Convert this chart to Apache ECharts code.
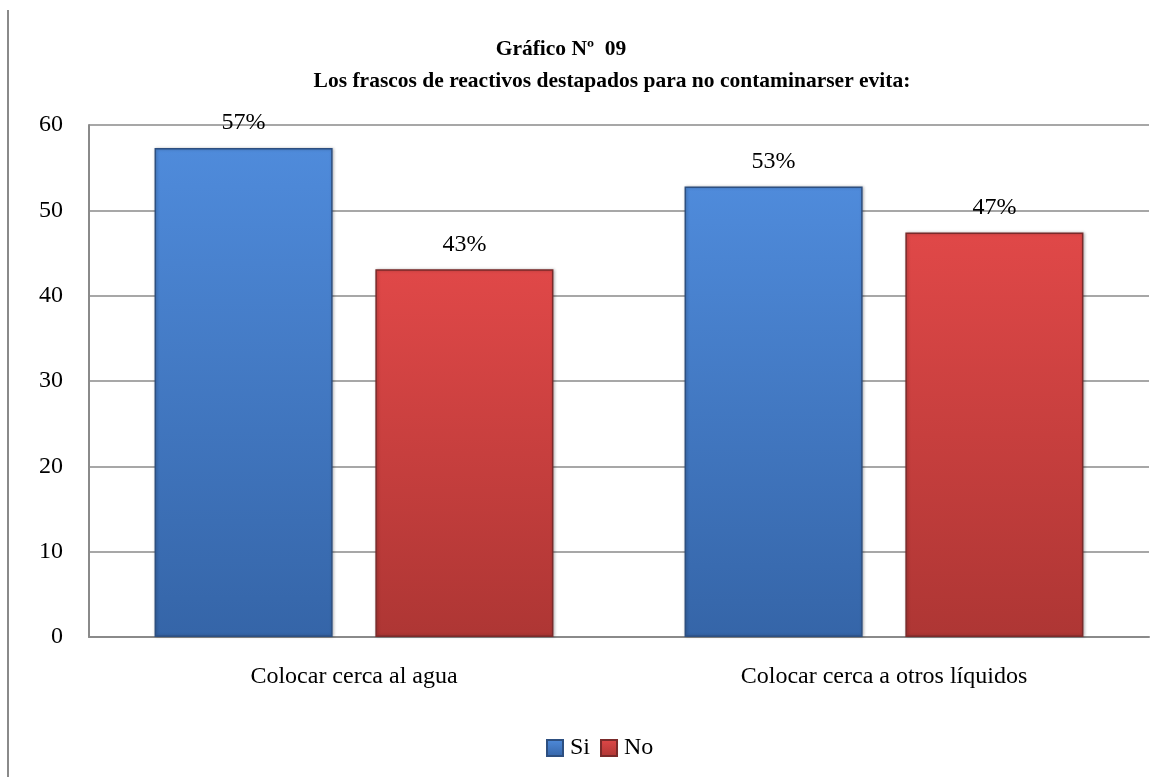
<!DOCTYPE html>
<html>
<head>
<meta charset="utf-8">
<script src="https://cdn.jsdelivr.net/npm/echarts@6/dist/echarts.min.js"></script>
<style>
  html, body { margin: 0; padding: 0; background: #fff; }
  #chart { width: 1168px; height: 777px; }
</style>
</head>
<body>
<div id="chart"></div>
<script>
// Survey answers per option, in percent
const categories = ['Colocar cerca al agua', 'Colocar cerca a otros líquidos'];
const siValues = [57.3, 52.8];
const noValues = [43.1, 47.4];
const seriesNames = ['Si', 'No'];
const yTicks = { min: 0, max: 60, interval: 10 };

const FONT = '"Liberation Serif", "Times New Roman", serif';

function grad(top, bottom) {
  return new echarts.graphic.LinearGradient(0, 0, 0, 1, [
    { offset: 0, color: top },
    { offset: 1, color: bottom }
  ]);
}

function barSeries(name, data, topColor, bottomColor, edge) {
  return {
    name: name,
    type: 'bar',
    data: data,
    barWidth: '33.6%',
    barGap: '24%',
    itemStyle: {
      color: grad(topColor, bottomColor),
      borderColor: edge,
      borderWidth: 1.5,
      shadowColor: 'rgba(0,0,0,0.25)',
      shadowBlur: 3,
      shadowOffsetX: 1
    },
    label: {
      show: true,
      position: 'top',
      distance: 13,
      fontFamily: FONT,
      fontSize: 24,
      color: '#000',
      formatter: p => Math.round(p.value) + '%'
    }
  };
}

const chart = echarts.init(document.getElementById('chart'), null, { renderer: 'canvas' });
chart.setOption({
  backgroundColor: '#fff',
  animation: false,
  title: [
    {
      text: 'Gráfico Nº  09',
      left: 556, top: 33, textAlign: 'center',
      textStyle: { fontFamily: FONT, fontSize: 21.5, fontWeight: 'bold', color: '#000' }
    },
    {
      text: 'Los frascos de reactivos destapados para no contaminarser evita:',
      left: 607, top: 65, textAlign: 'center',
      textStyle: { fontFamily: FONT, fontSize: 21.5, fontWeight: 'bold', color: '#000' }
    }
  ],
  graphic: [
    {
      type: 'line',
      shape: { x1: 8, y1: 10, x2: 8, y2: 777 },
      style: { stroke: '#8a8a8a', lineWidth: 2 }
    }
  ],
  legend: {
    data: seriesNames,
    left: 541, top: 731,
    itemWidth: 16, itemHeight: 16, itemGap: 10,
    icon: 'rect',
    textStyle: { fontFamily: FONT, fontSize: 24, color: '#000', padding: [0, 0, 0, 2] }
  },
  grid: { left: 89, right: 19, top: 125, bottom: 140, containLabel: false },
  xAxis: {
    type: 'category',
    data: categories,
    axisLine: { lineStyle: { color: '#8a8a8a', width: 2 } },
    axisTick: { show: false },
    axisLabel: { fontFamily: FONT, fontSize: 24, color: '#000', margin: 28 }
  },
  yAxis: {
    type: 'value',
    min: yTicks.min, max: yTicks.max, interval: yTicks.interval,
    axisLine: { show: true, lineStyle: { color: '#8a8a8a', width: 2 } },
    axisTick: { show: false },
    axisLabel: { fontFamily: FONT, fontSize: 24, color: '#000', margin: 26 },
    splitLine: { lineStyle: { color: '#8a8a8a', width: 1.5 } }
  },
  series: [
    barSeries(seriesNames[0], siValues, '#4f8bdb', '#3565a8', '#2d4f80'),
    barSeries(seriesNames[1], noValues, '#e04848', '#ae3634', '#7a2a2a')
  ]
});
</script>
</body>
</html>
